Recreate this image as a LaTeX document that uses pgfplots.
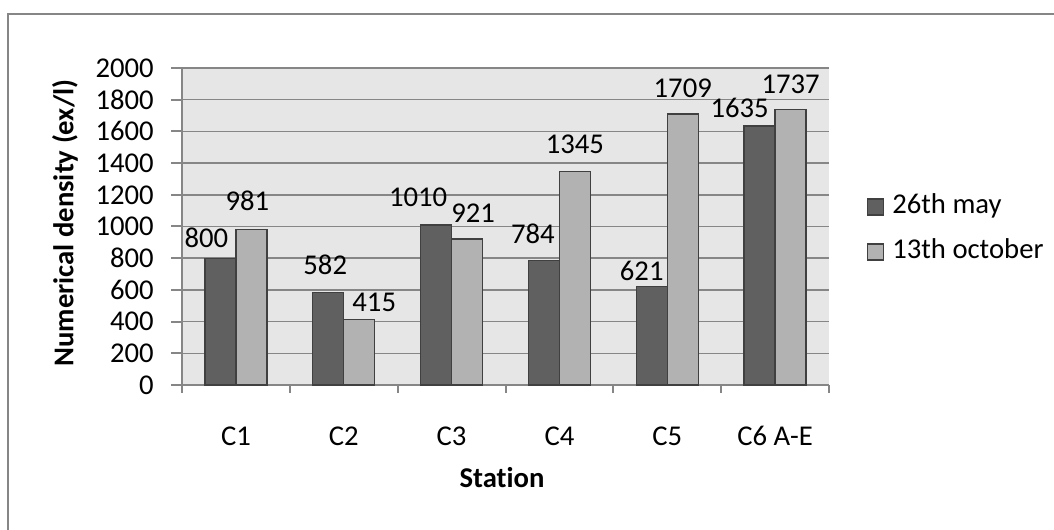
\documentclass[border=0pt]{standalone}
\usepackage{pgfplots}
\pgfplotsset{compat=1.18}
\usepackage{fontspec}
\setmainfont{Carlito}[Ligatures=NoCommon]

\definecolor{darkbar}{HTML}{606060}
\definecolor{lightbar}{HTML}{B2B2B2}
\definecolor{plotbg}{HTML}{E6E6E6}
\definecolor{linegray}{HTML}{868686}
\definecolor{barline}{HTML}{404040}

\newcommand{\chartfont}{\fontsize{21.5}{25}\selectfont}

\pgfplotsset{
  sqlegend/.style={legend image code/.code={%
    \draw[##1, line width=1pt] (0pt,-6pt) rectangle (12pt,6pt);}},
}

\begin{document}
\begin{tikzpicture}[font=\chartfont]
% page = 1054 x 530 px, 1px = 0.75pt
\useasboundingbox (0pt,0pt) rectangle (790.5pt,-397.5pt);
\draw[linegray, line width=1.5pt] (6pt,-400pt) -- (6pt,-10.5pt) -- (795pt,-10.5pt);

\begin{axis}[
  at={(136.5pt,-288.75pt)}, anchor=south west,
  scale only axis, width=485.25pt, height=237.75pt,
  clip=false,
  xmin=-0.5, xmax=5.5, ymin=0, ymax=2000,
  ybar=0pt, bar width=23.25pt,
  axis x line*=bottom, axis y line*=left,
  axis line style={linegray, line width=1.5pt},
  axis background/.style={fill=plotbg},
  /pgf/number format/1000 sep={},
  /pgf/number format/assume math mode=true,
  ytick={0,200,...,2000},
  ymajorgrids, grid style={linegray, line width=1.1pt},
  xtick={0,...,5}, xticklabels={C1,C2,C3,C4,C5,C6 A-E},
  minor xtick={-0.5,0.5,...,5.5},
  major x tick style={draw=none},
  tick align=outside, major tick length=8pt, minor tick length=6pt,
  tick style={linegray, line width=1.5pt},
  tick label style={font=\chartfont},
  yticklabel style={inner sep=0pt, xshift=-13pt},
  xticklabel style={inner sep=0pt, anchor=north, yshift=-23pt},
  xlabel={Station}, ylabel={Numerical density (ex/l)},
  label style={font=\chartfont\bfseries},
  xlabel style={at={(axis description cs:0.4946,-0.293)}, anchor=center},
  ylabel style={at={(axis description cs:-0.181,0.511)}, anchor=center},
  legend style={draw=none, fill=none, at={(1.0587,0.4905)}, anchor=west,
    inner sep=0pt, outer sep=0pt, row sep=13.75pt, column sep=6pt,
    font=\chartfont,
    nodes={inner sep=0pt, text height=15pt, text depth=5pt}},
  legend cell align=left,
  nodes near coords,
  visualization depends on={value \thisrow{dx} \as \dx},
  visualization depends on={value \thisrow{dy} \as \dy},
  every node near coord/.append style={font=\chartfont,
    inner sep=0pt, anchor=south, xshift={\dx*0.75pt}, yshift={(16+\dy)*0.75pt}},
]
\addplot[fill=darkbar, draw=barline, line width=1pt, sqlegend] table[x=x, y=y] {
x y    dx  dy
0 800  -14 -6
1 582  -3  1
2 1010 -18 2
3 784  -11 0
4 621  -10 -11
5 1635 -20 -9
};
\addplot[fill=lightbar, draw=barline, line width=1pt, sqlegend] table[x=x, y=y] {
x y    dx  dy
0 981  -4  2
1 415  15  -9
2 921  6   0
3 1345 0   1
4 1709 0   0
5 1737 0   -1
};
\legend{26th may, 13th october}
\end{axis}
\end{tikzpicture}
\end{document}
